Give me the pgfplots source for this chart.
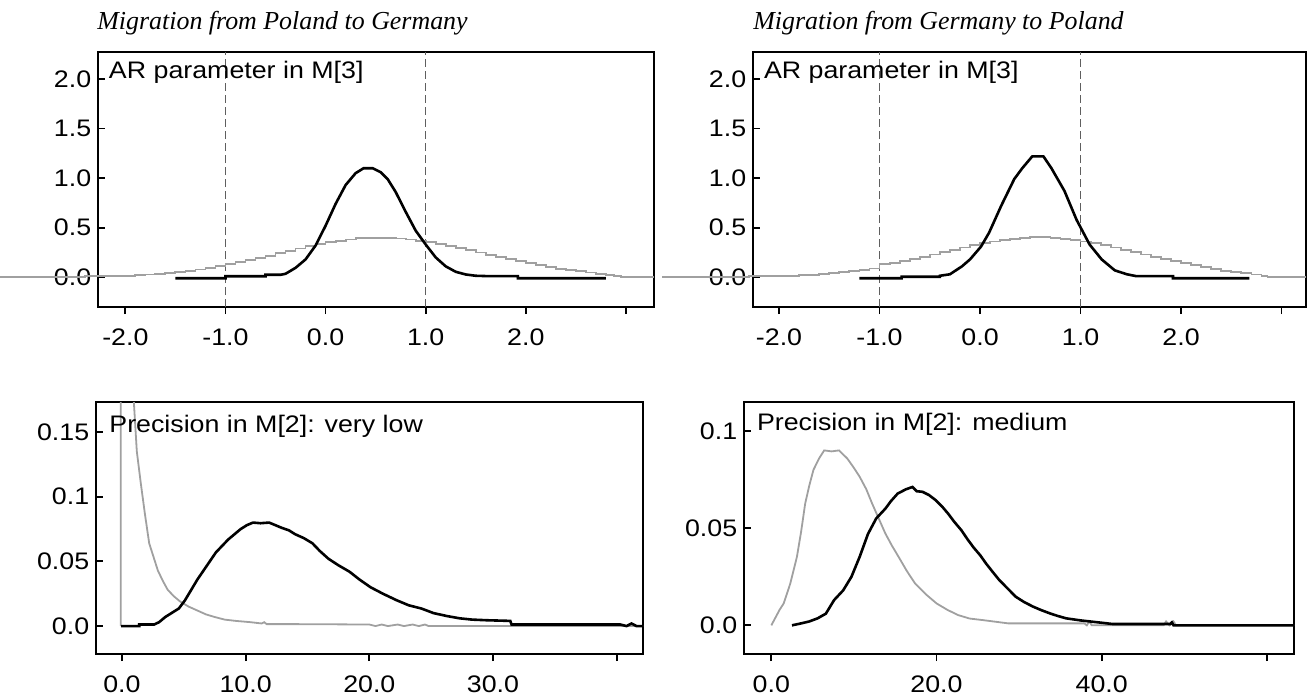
\documentclass[border=0pt]{standalone}
\usepackage{fontspec}
\setmainfont{Liberation Sans}[FakeStretch=1.12]
\newfontfamily\titlefont{Liberation Serif}
\usepackage{pgfplots}
\pgfplotsset{compat=1.18}
\definecolor{priorgray}{RGB}{160,160,160}
\definecolor{dashgray}{RGB}{95,95,95}
\pgfplotsset{
 panel/.style={
  scale only axis, anchor=north west,
  axis line style={line width=1bp, black},
  xtick align=outside, ytick align=inside,
  xtick pos=bottom, ytick pos=left,
  major tick length=3.5bp,
  tick style={line width=0.9bp, black},
  tick label style={font=\fontsize{12}{14}\selectfont},
  xticklabel style={inner sep=0pt, yshift=-7bp, anchor=north},
  yticklabel style={inner sep=0pt, xshift=-3.2bp, anchor=east},
 },
 post/.style={black, line width=1.3bp},
 prior/.style={priorgray, line width=0.9bp},
 vdash/.style={dashgray, line width=0.5bp, dash pattern=on 4bp off 2bp},
}
\newcommand\paneltext{\fontsize{12}{14}\selectfont}
\newcommand\titletext{\titlefont\itshape\fontsize{13}{15}\selectfont}
\begin{document}
\begin{tikzpicture}
\useasboundingbox (0,0) rectangle (654bp,-347.5bp);
\node[anchor=base west, inner sep=0pt, font=\titletext] at (48.5bp,-14.5bp) {Migration from Poland to Germany};
\node[anchor=base west, inner sep=0pt, font=\titletext] at (376.5bp,-14.5bp) {Migration from Germany to Poland};

% ---------------- top left
\begin{axis}[panel, at={(49bp,-26bp)}, width=278bp, height=127.5bp,
  xmin=-2.273, xmax=3.280, ymin=-0.300, ymax=2.272, clip=false,
  xtick={-2,-1,0,1,2,3}, xticklabels={-2.0,-1.0,0.0,1.0,2.0,},
  ytick={0,0.5,1,1.5,2}, yticklabels={0.0,0.5,1.0,1.5,2.0}]
\addplot[vdash] coordinates {(-1,-0.300) (-1,2.272)};
\addplot[vdash] coordinates {(1,-0.300) (1,2.272)};
\addplot[prior, const plot] coordinates {
(-3.25,0.000) (-2.82,0.005) (-2.40,0.010) (-1.90,0.022) (-1.80,0.028) (-1.70,0.035)
(-1.60,0.044) (-1.50,0.054) (-1.40,0.066) (-1.30,0.079) (-1.20,0.094) (-1.10,0.111)
(-1.00,0.130) (-0.90,0.150) (-0.80,0.171) (-0.70,0.194) (-0.60,0.218) (-0.50,0.242)
(-0.40,0.266) (-0.30,0.290) (-0.20,0.312) (-0.10,0.333) (0.00,0.352) (0.10,0.368)
(0.20,0.381) (0.30,0.395) (0.40,0.400) (0.50,0.400) (0.60,0.400) (0.70,0.391)
(0.80,0.381) (0.90,0.368) (1.00,0.352) (1.10,0.333) (1.20,0.315) (1.30,0.295)
(1.40,0.272) (1.50,0.250) (1.60,0.228) (1.70,0.205) (1.80,0.182) (1.90,0.160)
(2.00,0.140) (2.10,0.120) (2.20,0.102) (2.30,0.086) (2.40,0.072) (2.50,0.060)
(2.60,0.048) (2.70,0.035) (2.80,0.022) (2.88,0.010) (2.95,0.000) (3.28,0.000)};
\addplot[post] coordinates {
(-1.50,-0.010) (-1.00,-0.010) (-1.00,0.010) (-0.60,0.010) (-0.60,0.025) (-0.45,0.025)
(-0.40,0.035) (-0.30,0.095) (-0.20,0.180) (-0.10,0.320) (0.00,0.520) (0.10,0.740)
(0.20,0.930) (0.30,1.050) (0.38,1.100) (0.47,1.100) (0.55,1.060) (0.62,0.990)
(0.70,0.860) (0.80,0.660) (0.90,0.470) (1.00,0.330) (1.10,0.200) (1.20,0.110)
(1.30,0.055) (1.40,0.028) (1.50,0.015) (1.60,0.012) (1.92,0.012) (1.92,-0.010) (2.80,-0.010)};
\node[anchor=base west, inner sep=0pt, font=\paneltext, xshift=5.3bp] at (axis cs:-2.273,2.0) {AR parameter in M[3]};
\end{axis}

% ---------------- top right
\begin{axis}[panel, at={(376.5bp,-26bp)}, width=276.5bp, height=127.5bp,
  xmin=-2.259, xmax=3.243, ymin=-0.300, ymax=2.272, clip=false,
  xtick={-2,-1,0,1,2,3}, xticklabels={-2.0,-1.0,0.0,1.0,2.0,},
  ytick={0,0.5,1,1.5,2}, yticklabels={0.0,0.5,1.0,1.5,2.0}]
\addplot[vdash] coordinates {(-1,-0.300) (-1,2.272)};
\addplot[vdash] coordinates {(1,-0.300) (1,2.272)};
\addplot[prior, const plot] coordinates {
(-3.16,0.000) (-2.75,0.005) (-2.30,0.010) (-1.80,0.020) (-1.70,0.026) (-1.60,0.033)
(-1.50,0.041) (-1.40,0.050) (-1.30,0.061) (-1.20,0.074) (-1.10,0.088) (-1.00,0.130)
(-0.90,0.140) (-0.80,0.160) (-0.70,0.182) (-0.60,0.206) (-0.50,0.230) (-0.40,0.254)
(-0.30,0.278) (-0.20,0.301) (-0.10,0.322) (0.00,0.342) (0.10,0.360) (0.20,0.375)
(0.30,0.386) (0.40,0.400) (0.50,0.405) (0.60,0.405) (0.70,0.400) (0.80,0.386)
(0.90,0.375) (1.00,0.360) (1.10,0.342) (1.20,0.322) (1.30,0.301) (1.40,0.278)
(1.50,0.254) (1.60,0.230) (1.70,0.206) (1.80,0.182) (1.90,0.160) (2.00,0.140)
(2.10,0.120) (2.20,0.100) (2.30,0.082) (2.40,0.066) (2.50,0.052) (2.60,0.040)
(2.70,0.028) (2.80,0.015) (2.86,0.005) (2.92,0.000) (3.243,0.000)};
\addplot[post] coordinates {
(-1.20,-0.010) (-0.78,-0.010) (-0.78,0.005) (-0.40,0.005) (-0.40,0.015) (-0.30,0.030)
(-0.18,0.110) (-0.10,0.180) (0.01,0.310) (0.09,0.450) (0.21,0.720) (0.34,0.990)
(0.42,1.100) (0.52,1.220) (0.63,1.220) (0.71,1.100) (0.84,0.870) (0.96,0.580)
(1.09,0.330) (1.21,0.180) (1.34,0.070) (1.46,0.030) (1.55,0.012) (1.92,0.012)
(1.92,-0.010) (2.68,-0.010)};
\node[anchor=base west, inner sep=0pt, font=\paneltext, xshift=5.3bp] at (axis cs:-2.259,2.0) {AR parameter in M[3]};
\end{axis}

% ---------------- bottom left
\begin{axis}[panel, at={(48bp,-201bp)}, width=273.5bp, height=126bp,
  xmin=-2.10, xmax=42.13, ymin=-0.0216, ymax=0.1732,
  xtick={0,10,20,30,40}, xticklabels={0.0,10.0,20.0,30.0,},
  ytick={0,0.05,0.1,0.15}, yticklabels={0.0,0.05,0.1,0.15}]
\addplot[prior] coordinates {
(-0.1,0) (-0.1,2.0) (0.5,2.0) (0.8,0.30) (0.95,0.175) (1.2,0.135) (1.5,0.112)
(1.85,0.087) (2.2,0.064) (2.5,0.055) (2.9,0.043) (3.3,0.035) (3.7,0.028) (4.2,0.023)
(4.7,0.019) (5.4,0.015) (6.1,0.012) (6.8,0.009) (7.5,0.007) (8.3,0.005) (9.2,0.004)
(10.4,0.003) (11.3,0.002) (11.5,0.003) (11.7,0.0015) (14,0.0015) (20,0.0012)
(20.5,0.0) (21,0.0012) (21.5,0) (22.3,0.0012) (22.8,0) (23.5,0.0012) (24,0)
(24.5,0.0012) (24.8,0) (42.13,0)};
\addplot[post] coordinates {
(-0.07,0) (1.4,0) (1.4,0.0012) (2.6,0.0012) (3.0,0.003) (3.5,0.007) (4.0,0.010)
(4.6,0.0136) (5.1,0.020) (5.6,0.028) (6.1,0.036) (6.6,0.043) (7.1,0.050) (7.6,0.057)
(8.1,0.062) (8.6,0.067) (9.1,0.071) (9.6,0.075) (10.1,0.078) (10.6,0.080) (11.2,0.0795)
(11.9,0.080) (12.4,0.078) (12.9,0.076) (13.5,0.074) (14.0,0.071) (14.7,0.068)
(15.4,0.064) (16.0,0.058) (16.7,0.052) (17.5,0.047) (18.4,0.042) (19.2,0.036)
(20.1,0.030) (21.1,0.025) (22.2,0.020) (23.2,0.016) (24.2,0.0136) (25.2,0.010)
(26.3,0.0077) (27.3,0.006) (28.3,0.005) (29.5,0.0045) (31.4,0.004) (31.5,0.0012)
(40.3,0.0012) (40.8,0) (41.2,0.002) (41.6,0) (42.13,0)};
\node[anchor=base west, inner sep=0pt, font=\paneltext, xshift=6.5bp] at (axis cs:-2.10,0.15) {Precision in M[2]: very low};
\end{axis}

% ---------------- bottom right
\begin{axis}[panel, at={(372bp,-201bp)}, width=275bp, height=126bp,
  xmin=-3.31, xmax=63.29, ymin=-0.01475, ymax=0.1149,
  xtick={0,20,40,60}, xticklabels={0.0,20.0,40.0,},
  ytick={0,0.05,0.1}, yticklabels={0.0,0.05,0.1}]
\addplot[prior] coordinates {
(0,0) (0.5,0.004) (1.0,0.008) (1.5,0.0113) (2.3,0.0216) (3.1,0.0353) (3.6,0.048)
(4.1,0.0627) (4.6,0.072) (5.1,0.080) (5.8,0.086) (6.4,0.090) (7.3,0.0895) (8.2,0.090)
(9.2,0.0858) (10.0,0.081) (10.7,0.0764) (11.5,0.070) (12.2,0.0627) (13.0,0.055)
(13.8,0.0473) (14.6,0.041) (15.4,0.0353) (16.4,0.028) (17.4,0.0216) (18.7,0.016)
(20.0,0.0113) (21.3,0.008) (22.6,0.0053) (24.0,0.0035) (25.6,0.0027) (28.7,0.001)
(37.9,0.001) (38.2,0.0) (38.5,0.002) (38.8,0) (47.5,0) (47.8,0.002) (48.2,0)
(48.7,0.002) (49,0) (63.29,0)};
\addplot[post] coordinates {
(2.5,0) (3.6,0.001) (4.6,0.002) (5.6,0.0036) (6.6,0.006) (7.6,0.013) (8.7,0.018)
(9.7,0.025) (10.7,0.0353) (11.7,0.047) (12.7,0.055) (13.8,0.060) (14.5,0.064)
(15.3,0.0678) (16.3,0.070) (17.1,0.0712) (17.6,0.069) (18.3,0.0687) (19.1,0.067)
(19.9,0.0644) (20.7,0.061) (21.4,0.0575) (22.2,0.053) (23.0,0.049) (23.8,0.044)
(24.5,0.040) (25.3,0.036) (26.0,0.0318) (26.8,0.0275) (27.6,0.0233) (28.6,0.019)
(29.6,0.0147) (30.6,0.012) (31.7,0.0096) (32.7,0.0078) (33.7,0.0062) (34.7,0.0048)
(35.7,0.0036) (37.5,0.0025) (38.8,0.0019) (41.3,0.0007) (48.3,0.0007) (48.5,0.0015)
(48.7,0.0) (63.29,0)};
\node[anchor=base west, inner sep=0pt, font=\paneltext, xshift=6.3bp] at (axis cs:-3.31,0.1) {Precision in M[2]: medium};
\end{axis}
\end{tikzpicture}
\end{document}
